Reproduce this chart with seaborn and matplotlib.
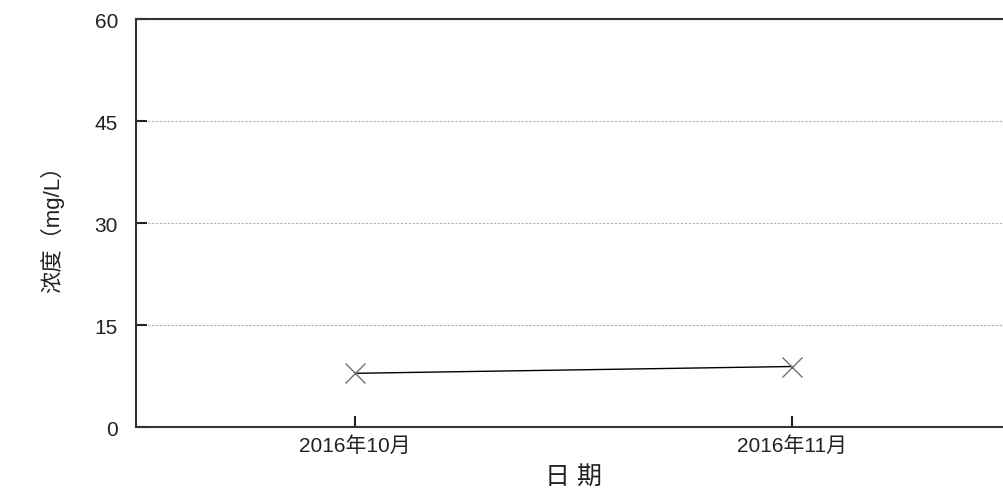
import matplotlib
matplotlib.use("Agg")
import matplotlib.pyplot as plt
import seaborn as sns

# values
months = ["2016年10月", "2016年11月"]
concentration = [7.9, 8.9]
y_ticks = [0, 15, 30, 45, 60]

sns.set_style("white")
plt.rcParams['font.family'] = ['Liberation Sans', 'Noto Sans CJK SC', 'DejaVu Sans']

fig = plt.figure(figsize=(10.04, 4.89), dpi=100)
ax = fig.add_axes([0.1355, 0.1247, 0.8715, 0.8343])

sns.lineplot(x=months, y=concentration, ax=ax, color="black", linewidth=1.0,
             marker="x", markersize=15, markeredgecolor="#707070",
             markeredgewidth=1.0)

ax.set_xlim(-0.5, 1.5)
ax.set_ylim(0, 60)
ax.set_yticks(y_ticks)
ax.yaxis.grid(True, linestyle=(0, (2, 1.5)), color="#b0b0b0", linewidth=0.8)

for side in ["left", "bottom", "top", "right"]:
    ax.spines[side].set_color("#333333")
    ax.spines[side].set_linewidth(1.5)

ax.tick_params(axis="both", direction="in", length=8, width=1.5,
               colors="#222222", labelsize=15, bottom=True, left=True)
ax.tick_params(axis="y", pad=13)
ax.tick_params(axis="x", pad=6)

ax.set_xlabel("日 期", fontsize=18, labelpad=6, color="#222222")
ax.set_ylabel("浓度（mg/L）", fontsize=16, labelpad=22, color="#222222")

fig.savefig("out.png", dpi=100)
